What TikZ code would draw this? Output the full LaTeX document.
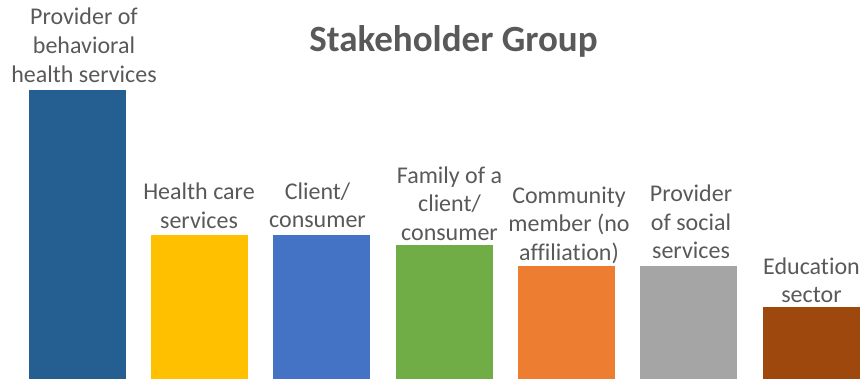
\documentclass[tikz,border=0pt]{standalone}
\usepackage{fontspec}
\setmainfont{Carlito}[Ligatures={TeX,NoCommon}]
\definecolor{txt}{HTML}{595959}
\definecolor{c1}{HTML}{255E91}
\definecolor{c2}{HTML}{FFC000}
\definecolor{c3}{HTML}{4472C4}
\definecolor{c4}{HTML}{70AD47}
\definecolor{c5}{HTML}{ED7D31}
\definecolor{c6}{HTML}{A5A5A5}
\definecolor{c7}{HTML}{9E480E}
\begin{document}
\begin{tikzpicture}[x=1pt,y=-1pt,
  lbl/.style={anchor=base, align=center, inner sep=0pt, text=txt,
    font=\fontsize{24}{28.7}\selectfont}]
\useasboundingbox (0,0) rectangle (860,379);
\node[anchor=base, inner sep=0pt, text=txt, font=\fontsize{37}{44}\selectfont\bfseries] (title) at (453.5,51.7) {Stakeholder Group};
\fill[c1] (29,90) rectangle (126,379);
\fill[c2] (151,235) rectangle (248,379);
\fill[c3] (273,235) rectangle (370,379);
\fill[c4] (396,245) rectangle (493,379);
\fill[c5] (518,266) rectangle (615,379);
\fill[c6] (640,266) rectangle (737,379);
\fill[c7] (763,306.7) rectangle (860,379);
\node[lbl] (l1) at (84,82.3) {Provider of\\behavioral\\health services};
\node[lbl] (l2) at (199,228.3) {Health care\\services};
\node[lbl] (l3) at (317.5,228) {Client/\\consumer};
\node[lbl] (l4) at (449.5,240.7) {Family of a\\client/\\consumer};
\node[lbl] (l5) at (569,260.7) {Community\\member (no\\affiliation)};
\node[lbl] (l6) at (691,259) {Provider\\of social\\services};
\node[lbl] (l7) at (811.5,303) {Education\\sector};
\end{tikzpicture}
\end{document}
